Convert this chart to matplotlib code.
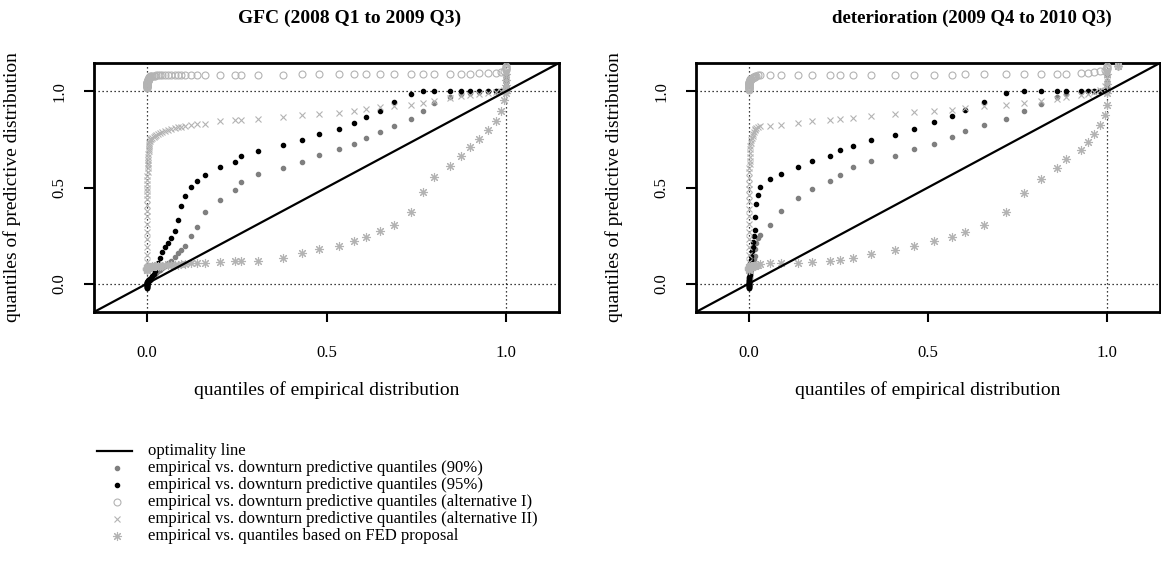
import matplotlib.pyplot as plt
from matplotlib.lines import Line2D

plt.rcParams['font.family'] = ['Liberation Serif', 'DejaVu Serif']

# GFC period: empirical quantiles (x) and predictive quantiles of each model
gfc_emp = [
    0.000, 0.000, 0.000, 0.000, 0.000, 0.000, 0.000, 0.000, 0.000, 0.000,
    0.001, 0.001, 0.001, 0.001, 0.001, 0.001, 0.002, 0.002, 0.002, 0.002,
    0.003, 0.003, 0.003, 0.004, 0.004, 0.005, 0.005, 0.006, 0.007, 0.008,
    0.010, 0.013, 0.018, 0.022, 0.026, 0.031, 0.035, 0.042, 0.049, 0.058,
    0.067, 0.077, 0.086, 0.095, 0.107, 0.123, 0.139,
    0.160, 0.202, 0.244, 0.262, 0.309, 0.378, 0.431, 0.480, 0.534, 0.578,
    0.609, 0.650, 0.689, 0.736, 0.770, 0.801, 0.843, 0.875, 0.901, 0.926,
    0.949, 0.973, 0.987, 0.996,
    1.000, 1.000, 1.000, 1.000, 1.000]
gfc_q90 = [
    -0.018, -0.015, -0.012, -0.010, -0.008, -0.006, -0.004, -0.002, 0.000, 0.002,
    0.004, 0.005, 0.007, 0.008, 0.009, 0.010, 0.011, 0.012, 0.013, 0.014,
    0.015, 0.016, 0.017, 0.018, 0.019, 0.020, 0.021, 0.022, 0.023, 0.024,
    0.026, 0.032, 0.040, 0.048, 0.056, 0.064, 0.072, 0.082, 0.093, 0.106,
    0.120, 0.140, 0.158, 0.176, 0.196, 0.246, 0.293,
    0.371, 0.434, 0.486, 0.528, 0.568, 0.602, 0.635, 0.668, 0.701, 0.726,
    0.757, 0.788, 0.822, 0.857, 0.896, 0.940, 0.972, 0.985, 0.992, 0.996,
    1.000, 1.000, 1.000, 1.000,
    1.000, 1.000, 1.010, 1.030, 1.060]
gfc_q95 = [
    -0.025, -0.022, -0.020, -0.018, -0.015, -0.013, -0.010, -0.008, -0.006, -0.004,
    -0.002, 0.000, 0.002, 0.004, 0.005, 0.007, 0.008, 0.010, 0.011, 0.012,
    0.013, 0.014, 0.015, 0.016, 0.017, 0.018, 0.019, 0.020, 0.021, 0.022,
    0.028, 0.038, 0.050, 0.064, 0.082, 0.105, 0.135, 0.165, 0.190, 0.211,
    0.237, 0.272, 0.333, 0.402, 0.454, 0.503, 0.536,
    0.567, 0.606, 0.632, 0.663, 0.689, 0.719, 0.747, 0.778, 0.802, 0.835,
    0.865, 0.899, 0.944, 0.988, 1.000, 1.000, 1.000, 1.000, 1.000, 1.000,
    1.000, 1.000, 1.000, 1.000,
    1.000, 1.000, 1.030, 1.061, 1.087]
gfc_alt1 = [
    1.018, 1.021, 1.024, 1.026, 1.028, 1.030, 1.032, 1.034, 1.036, 1.038,
    1.040, 1.042, 1.044, 1.046, 1.048, 1.050, 1.052, 1.054, 1.056, 1.058,
    1.060, 1.062, 1.064, 1.066, 1.068, 1.070, 1.072, 1.074, 1.076, 1.078,
    1.079, 1.080, 1.081, 1.082, 1.083, 1.084, 1.084, 1.085, 1.085, 1.086,
    1.086, 1.087, 1.087, 1.087, 1.088, 1.088, 1.088,
    1.088, 1.088, 1.088, 1.088, 1.088, 1.088, 1.089, 1.089, 1.089, 1.089,
    1.089, 1.089, 1.089, 1.090, 1.090, 1.090, 1.090, 1.091, 1.092, 1.094,
    1.096, 1.098, 1.100, 1.105,
    1.110, 1.115, 1.120, 1.125, 1.130]
gfc_alt2 = [
    0.110, 0.150, 0.190, 0.230, 0.270, 0.310, 0.350, 0.380, 0.410, 0.440,
    0.460, 0.480, 0.500, 0.520, 0.540, 0.560, 0.580, 0.600, 0.615, 0.630,
    0.645, 0.660, 0.675, 0.690, 0.700, 0.710, 0.720, 0.730, 0.740, 0.750,
    0.755, 0.760, 0.765, 0.770, 0.775, 0.780, 0.784, 0.789, 0.794, 0.799,
    0.804, 0.809, 0.813, 0.817, 0.821, 0.826, 0.830,
    0.833, 0.845, 0.851, 0.853, 0.857, 0.868, 0.875, 0.880, 0.889, 0.896,
    0.906, 0.917, 0.922, 0.931, 0.940, 0.948, 0.965, 0.974, 0.983, 0.988,
    0.991, 0.995, 1.000, 1.010,
    1.020, 1.040, 1.060, 1.080, 1.100]
gfc_fed = [
    0.070, 0.072, 0.073, 0.074, 0.075, 0.076, 0.077, 0.078, 0.078, 0.079,
    0.080, 0.080, 0.081, 0.081, 0.082, 0.082, 0.083, 0.083, 0.084, 0.084,
    0.085, 0.085, 0.085, 0.086, 0.086, 0.086, 0.087, 0.087, 0.087, 0.088,
    0.088, 0.089, 0.090, 0.090, 0.091, 0.092, 0.093, 0.094, 0.095, 0.096,
    0.097, 0.098, 0.099, 0.101, 0.103, 0.105, 0.107,
    0.108, 0.111, 0.115, 0.117, 0.120, 0.134, 0.160, 0.181, 0.198, 0.220,
    0.243, 0.273, 0.307, 0.371, 0.475, 0.553, 0.610, 0.662, 0.711, 0.752,
    0.797, 0.848, 0.896, 0.957,
    0.990, 1.010, 1.035, 1.060, 1.090]

# Deterioration period (the dot series stop before the last empirical quantile)
det_emp = [
    0.000, 0.000, 0.000, 0.000, 0.000, 0.000, 0.000, 0.000, 0.000, 0.000,
    0.001, 0.001, 0.001, 0.001, 0.001, 0.002, 0.002, 0.002, 0.002, 0.003,
    0.004, 0.005, 0.006, 0.008, 0.010, 0.012, 0.014, 0.016,
    0.018, 0.020, 0.025, 0.032,
    0.058, 0.090, 0.137, 0.177, 0.225, 0.253, 0.290, 0.341, 0.408, 0.460,
    0.517, 0.568, 0.604, 0.657, 0.719, 0.768, 0.816, 0.861, 0.886, 0.928,
    0.947, 0.965, 0.981, 0.995,
    1.000, 1.000, 1.000, 1.000, 1.032]
det_q90 = [
    -0.020, -0.018, -0.015, -0.012, -0.010, -0.007, -0.004, -0.001, 0.002, 0.005,
    0.008, 0.012, 0.016, 0.020, 0.025, 0.030, 0.036, 0.042, 0.050, 0.058,
    0.066, 0.075, 0.085, 0.095, 0.106, 0.118, 0.130, 0.145,
    0.180, 0.211, 0.235, 0.255,
    0.305, 0.380, 0.446, 0.492, 0.532, 0.567, 0.605, 0.636, 0.666, 0.700,
    0.728, 0.761, 0.792, 0.823, 0.858, 0.896, 0.936, 0.970, 0.985, 0.995,
    1.000, 1.000, 1.000, 1.000,
    1.000, 1.000, 1.020, 1.050]
det_q95 = [
    -0.025, -0.022, -0.018, -0.015, -0.012, -0.008, -0.005, -0.002, 0.002, 0.005,
    0.010, 0.015, 0.020, 0.028, 0.036, 0.045, 0.055, 0.065, 0.078, 0.092,
    0.108, 0.125, 0.145, 0.168, 0.192, 0.218, 0.245, 0.281,
    0.345, 0.415, 0.459, 0.504,
    0.544, 0.572, 0.605, 0.636, 0.666, 0.693, 0.718, 0.749, 0.775, 0.806,
    0.839, 0.870, 0.905, 0.943, 0.992, 1.000, 1.000, 1.000, 1.000, 1.000,
    1.000, 1.000, 1.000, 1.000,
    1.000, 1.000, 1.040, 1.087]
det_alt1 = [
    1.010, 1.013, 1.016, 1.019, 1.022, 1.025, 1.028, 1.031, 1.034, 1.037,
    1.040, 1.043, 1.046, 1.049, 1.051, 1.053, 1.055, 1.057, 1.059, 1.061,
    1.063, 1.065, 1.067, 1.069, 1.071, 1.073, 1.075, 1.077,
    1.080, 1.082, 1.084, 1.085,
    1.087, 1.088, 1.088, 1.088, 1.088, 1.088, 1.088, 1.088, 1.088, 1.088,
    1.088, 1.088, 1.089, 1.089, 1.089, 1.090, 1.090, 1.090, 1.092, 1.094,
    1.096, 1.100, 1.105, 1.110,
    1.115, 1.120, 1.125, 1.130, 1.134]
det_alt2 = [
    0.110, 0.150, 0.190, 0.230, 0.270, 0.310, 0.350, 0.390, 0.430, 0.460,
    0.490, 0.520, 0.550, 0.580, 0.600, 0.620, 0.640, 0.660, 0.680, 0.700,
    0.715, 0.730, 0.745, 0.760, 0.770, 0.780, 0.790, 0.800,
    0.805, 0.810, 0.815, 0.820,
    0.822, 0.827, 0.836, 0.844, 0.850, 0.855, 0.862, 0.870, 0.882, 0.891,
    0.896, 0.905, 0.914, 0.926, 0.931, 0.940, 0.948, 0.960, 0.969, 0.983,
    0.988, 0.995, 1.005, 1.026,
    1.052, 1.070, 1.090, 1.110, 1.130]
det_fed = [
    0.070, 0.072, 0.074, 0.075, 0.076, 0.077, 0.078, 0.079, 0.080, 0.081,
    0.082, 0.083, 0.084, 0.084, 0.085, 0.085, 0.086, 0.086, 0.087, 0.087,
    0.088, 0.088, 0.089, 0.089, 0.090, 0.090, 0.091, 0.091,
    0.092, 0.095, 0.098, 0.100,
    0.107, 0.107, 0.107, 0.114, 0.116, 0.121, 0.133, 0.156, 0.177, 0.198,
    0.220, 0.241, 0.269, 0.307, 0.373, 0.471, 0.544, 0.600, 0.648, 0.697,
    0.737, 0.780, 0.825, 0.875,
    0.931, 0.992, 1.040, 1.090, 1.130]

tick_vals = [0.0, 0.5, 1.0]
tick_text = ['0.0', '0.5', '1.0']

W, H = 1161, 569
LIGHT = '#b3b3b3'
MID = '#7f7f7f'

styles = [
    dict(marker='o', ms=3.0, color=MID, mec=MID, ls='none'),
    dict(marker='o', ms=3.0, color='black', mec='black', ls='none'),
    dict(marker='o', ms=5.0, mfc='none', mec=LIGHT, mew=0.8, ls='none'),
    dict(marker='x', ms=5.0, color=LIGHT, mew=0.8, ls='none'),
    dict(marker=(8, 2, 0), ms=6.5, color=LIGHT, mew=0.8, ls='none'),
]


def fx(px):
    return px / W


def fy(py):
    return 1 - py / H


def draw_panel(ax, emp, series):
    for ys, st in zip(series, styles):
        ax.plot(emp[:len(ys)], ys, **st, zorder=3)
    for v in (0, 1):
        ax.axhline(v, color='black', lw=0.9, ls=(0, (1, 2.2)), zorder=2)
        ax.axvline(v, color='black', lw=0.9, ls=(0, (1, 2.2)), zorder=2)
    ax.axline((0, 0), (1, 1), color='black', lw=1.6, zorder=4)
    ax.set_xlim(-0.148, 1.148)
    ax.set_ylim(-0.148, 1.148)
    ax.set_xticks(tick_vals)
    ax.set_xticklabels(tick_text)
    ax.set_yticks(tick_vals)
    ax.set_yticklabels(tick_text, rotation=90, va='center')
    ax.tick_params(axis='both', direction='out', length=7, width=1.5, labelsize=12)
    ax.tick_params(axis='x', pad=17)
    ax.tick_params(axis='y', pad=12)
    for sp in ax.spines.values():
        sp.set_linewidth(2.0)


fig = plt.figure(figsize=(W / 100, H / 100), dpi=100)
ax_l = fig.add_axes([fx(94), fy(312), 465 / W, 249 / H])
ax_r = fig.add_axes([fx(696), fy(312), 464 / W, 249 / H])

draw_panel(ax_l, gfc_emp, [gfc_q90, gfc_q95, gfc_alt1, gfc_alt2, gfc_fed])
draw_panel(ax_r, det_emp, [det_q90, det_q95, det_alt1, det_alt2, det_fed])

# Titles and axis labels
fig.text(fx(350), fy(18), 'GFC (2008 Q1 to 2009 Q3)', ha='center', va='center',
         fontsize=14, fontweight='bold')
fig.text(fx(972), fy(18), 'deterioration (2009 Q4 to 2010 Q3)', ha='center',
         va='center', fontsize=13.5, fontweight='bold')
for cx in (327, 928):
    fig.text(fx(cx), fy(390), 'quantiles of empirical distribution',
             ha='center', va='center', fontsize=14)
for cx in (12, 614):
    fig.text(fx(cx), fy(187), 'quantiles of predictive distribution',
             ha='center', va='center', rotation=90, fontsize=14)

# Legend below the panels
labels = [
    'optimality line',
    'empirical vs. downturn predictive quantiles (90%)',
    'empirical vs. downturn predictive quantiles (95%)',
    'empirical vs. downturn predictive quantiles (alternative I)',
    'empirical vs. downturn predictive quantiles (alternative II)',
    'empirical vs. quantiles based on FED proposal',
]
row0, step = 451, 17
fig.add_artist(Line2D([fx(97), fx(132)], [fy(row0), fy(row0)], color='black', lw=1.6,
                      transform=fig.transFigure))
for i, st in enumerate(styles):
    yy = fy(row0 + step * (i + 1))
    fig.add_artist(Line2D([fx(117)], [yy], transform=fig.transFigure, **st))
for i, lab in enumerate(labels):
    fig.text(fx(148), fy(row0 + step * i), lab, ha='left', va='center', fontsize=12)

plt.savefig('out.png', dpi=100)
